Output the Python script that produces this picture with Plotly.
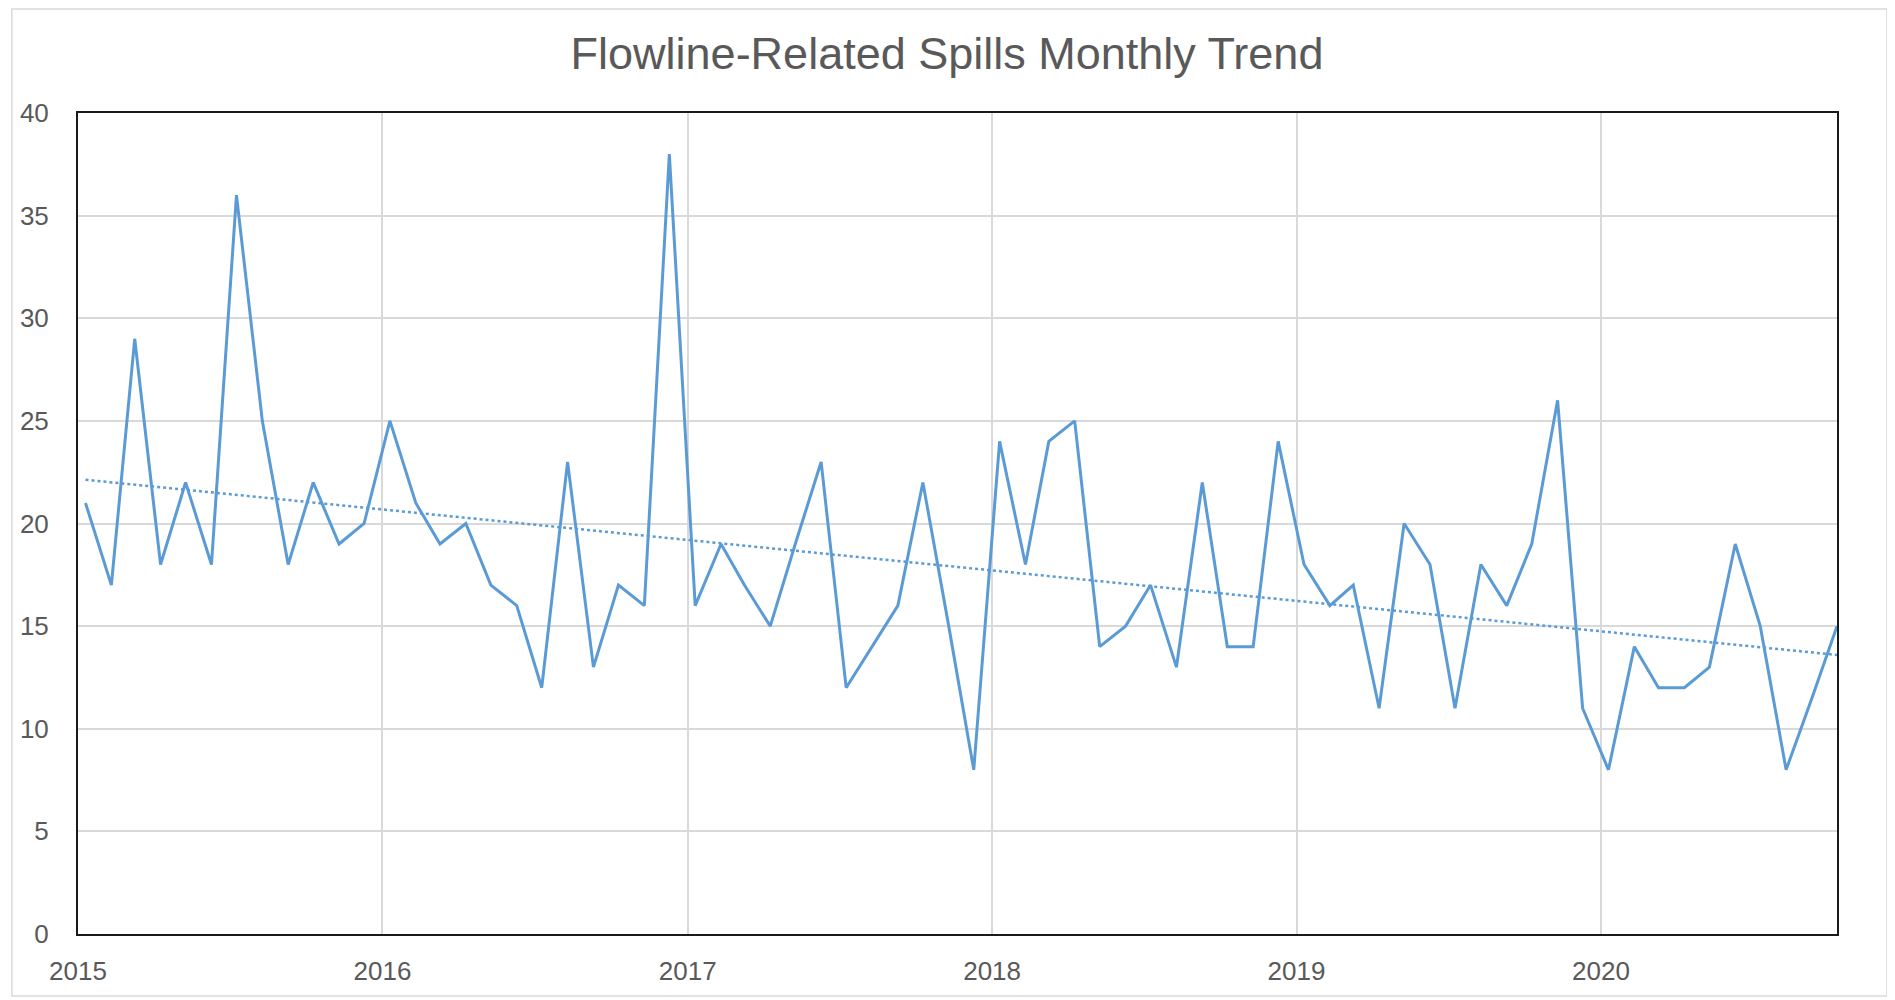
import numpy as np
import pandas as pd
import plotly.graph_objects as go

# ---- data ----
years = [2015, 2016, 2017, 2018, 2019, 2020]
spills_2015 = [21, 17, 29, 18, 22, 18, 36, 25, 18, 22, 19, 20]
spills_2016 = [25, 21, 19, 20, 17, 16, 12, 23, 13, 17, 16, 38]
spills_2017 = [16, 19, 17, 15, 19, 23, 12, 14, 16, 22, 15, 8]
spills_2018 = [24, 18, 24, 25, 14, 15, 17, 13, 22, 14, 14, 24]
spills_2019 = [18, 16, 17, 11, 20, 18, 11, 18, 16, 19, 26, 11]
spills_2020 = [8, 14, 12, 12, 13, 19, 15, 8, 11.5, 15]
tick_labels = ["2015", "2016", "2017", "2018", "2019", "2020"]
title_text = "Flowline-Related Spills Monthly Trend"

series = [spills_2015, spills_2016, spills_2017, spills_2018, spills_2019, spills_2020]
dates, values = [], []
for yr, vals in zip(years, series):
    for m, v in enumerate(vals, start=1):
        dates.append(pd.Timestamp(year=yr, month=m, day=10))
        values.append(v)
values = np.array(values, dtype=float)

# linear trendline
idx = np.arange(len(values))
slope, intercept = np.polyfit(idx, values, 1)
trend = slope * idx + intercept

BLUE = "#5B9BD5"
GRID = "#D9D9D9"
TXT = "#595959"
FONT = "Liberation Sans, Arial, sans-serif"

fig = go.Figure()
fig.add_trace(go.Scatter(x=dates, y=values, mode="lines",
                         line=dict(color=BLUE, width=3), showlegend=False))
fig.add_trace(go.Scatter(x=[dates[0], dates[-1]], y=[trend[0], trend[-1]], mode="lines",
                         line=dict(color=BLUE, width=2.5, dash="dot"), showlegend=False))

# page has an 8px body margin; figure coordinates are page coordinates minus 8
OFF = 8
W, H = 1880, 990
L = 75 - OFF
T = 113 - OFF
R = W - (1837 - OFF)
B = H - (935 - OFF)
pw, ph = W - L - R, H - T - B

fig.update_layout(
    width=W, height=H,
    margin=dict(l=L, r=R, t=T, b=B),
    paper_bgcolor="white", plot_bgcolor="white",
    font=dict(family=FONT, color=TXT),
    title=dict(text=title_text, x=(947 - OFF) / W, xanchor="center",
               y=1 - (53 - OFF) / H, yanchor="middle",
               yref="container", xref="container",
               font=dict(family=FONT, size=45, color=TXT)),
    xaxis=dict(
        type="date",
        range=[pd.Timestamp(2015, 1, 1), dates[-1]],
        tickvals=[pd.Timestamp(y, 1, 1) for y in years],
        ticktext=tick_labels,
        showgrid=True, gridcolor=GRID, gridwidth=1.5,
        showline=True, linecolor="#1A1A1A", linewidth=2, mirror=True,
        ticks="", tickfont=dict(size=26, color=TXT),
        ticklabelstandoff=13, zeroline=False,
    ),
    yaxis=dict(
        range=[0, 40], dtick=5, tick0=0,
        showgrid=True, gridcolor=GRID, gridwidth=1.5,
        showline=True, linecolor="#1A1A1A", linewidth=2, mirror=True,
        ticks="", tickfont=dict(size=26, color=TXT),
        ticklabelstandoff=22, zeroline=False,
    ),
    shapes=[dict(type="rect", xref="paper", yref="paper",
                 x0=(0.75 - L) / pw, x1=(1887 - OFF - L) / pw,
                 y0=(H - B - (997 - OFF)) / ph, y1=(H - B - 0.75) / ph,
                 line=dict(color=GRID, width=1.5), fillcolor="rgba(0,0,0,0)", layer="below")],
)

fig.write_html("out.html")
